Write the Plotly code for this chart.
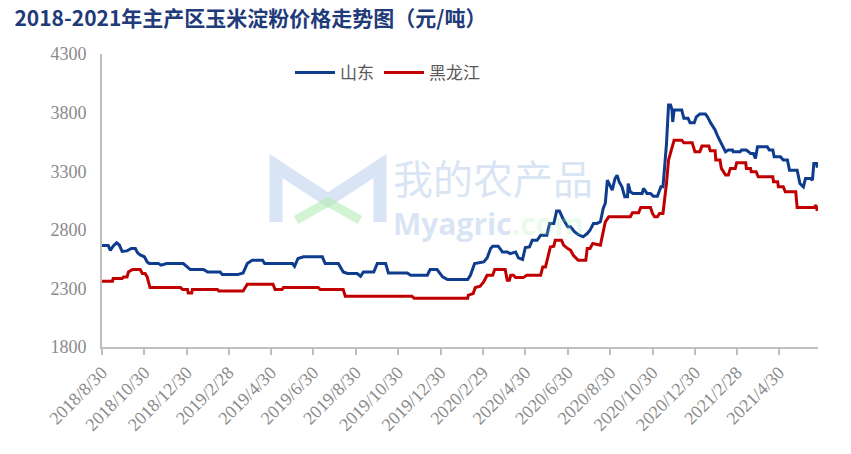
import plotly.graph_objects as go

# ---------------- data ----------------
sd_dates = [
    "2018-08-30", "2018-09-08", "2018-09-11", "2018-09-15", "2018-09-20", "2018-09-24",
    "2018-09-28", "2018-10-05", "2018-10-11", "2018-10-17", "2018-10-20", "2018-10-24",
    "2018-10-30", "2018-11-03", "2018-11-06", "2018-11-19", "2018-11-23", "2018-12-01",
    "2018-12-25", "2018-12-31", "2019-01-04", "2019-01-23", "2019-01-29", "2019-02-16",
    "2019-02-19", "2019-03-13", "2019-03-21", "2019-03-27", "2019-04-03", "2019-04-18",
    "2019-04-21", "2019-05-31", "2019-06-03", "2019-06-08", "2019-06-16", "2019-07-13",
    "2019-07-17", "2019-08-05", "2019-08-12", "2019-08-18", "2019-09-01", "2019-09-06",
    "2019-09-10", "2019-09-25", "2019-09-30", "2019-10-12", "2019-10-16", "2019-11-12",
    "2019-11-17", "2019-12-11", "2019-12-15", "2019-12-25", "2020-01-02", "2020-01-09",
    "2020-02-07", "2020-02-11", "2020-02-17", "2020-03-01", "2020-03-06", "2020-03-11",
    "2020-03-14", "2020-03-22", "2020-03-28", "2020-04-04", "2020-04-08", "2020-04-16",
    "2020-04-20", "2020-04-26", "2020-04-30", "2020-05-06", "2020-05-10", "2020-05-17",
    "2020-05-22", "2020-05-31", "2020-06-04", "2020-06-10", "2020-06-14", "2020-06-18",
    "2020-06-23", "2020-06-30", "2020-07-04", "2020-07-10", "2020-07-15", "2020-07-22",
    "2020-07-28", "2020-08-01", "2020-08-06", "2020-08-11", "2020-08-16", "2020-08-20",
    "2020-08-23", "2020-08-26", "2020-08-30", "2020-09-02", "2020-09-06", "2020-09-09",
    "2020-09-12", "2020-09-16", "2020-09-20", "2020-09-24", "2020-09-25", "2020-09-28",
    "2020-10-02", "2020-10-15", "2020-10-17", "2020-10-22", "2020-10-27", "2020-10-31",
    "2020-11-06", "2020-11-11", "2020-11-14", "2020-11-16", "2020-11-19", "2020-11-22",
    "2020-11-25", "2020-11-27", "2020-11-28", "2020-11-30", "2020-12-11", "2020-12-14",
    "2020-12-20", "2020-12-23", "2020-12-29", "2021-01-01", "2021-01-06", "2021-01-14",
    "2021-01-17", "2021-01-22", "2021-01-28", "2021-02-01", "2021-02-06", "2021-02-12",
    "2021-02-16", "2021-02-22", "2021-02-23", "2021-03-05", "2021-03-07", "2021-03-14",
    "2021-03-20", "2021-03-24", "2021-03-27", "2021-03-30", "2021-04-13", "2021-04-16",
    "2021-04-21", "2021-04-23", "2021-05-02", "2021-05-06", "2021-05-12", "2021-05-15",
    "2021-05-26", "2021-05-30", "2021-06-04", "2021-06-07", "2021-06-14", "2021-06-17",
    "2021-06-19", "2021-06-23", "2021-06-24",
]
sd_values = [
    2665, 2665, 2625, 2660, 2690, 2670,
    2615, 2620, 2640, 2640, 2605, 2585,
    2570, 2525, 2512, 2512, 2498, 2512,
    2512, 2485, 2461, 2461, 2440, 2440,
    2418, 2418, 2432, 2512, 2540, 2540,
    2512, 2512, 2489, 2555, 2569, 2569,
    2512, 2512, 2440, 2427, 2427, 2404,
    2440, 2440, 2512, 2512, 2432, 2432,
    2412, 2412, 2461, 2461, 2398, 2375,
    2375, 2412, 2512, 2526, 2560, 2640,
    2660, 2660, 2611, 2611, 2597, 2611,
    2560, 2546, 2649, 2654, 2711, 2711,
    2754, 2754, 2854, 2854, 2960, 2960,
    2897, 2825, 2825, 2782, 2760, 2740,
    2768, 2797, 2854, 2854, 2868, 2982,
    3025, 3224, 3181, 3138, 3238, 3266,
    3209, 3167, 3081, 3081, 3195, 3124,
    3110, 3110, 3153, 3110, 3110, 3087,
    3087, 3167, 3167, 3300, 3530, 3864,
    3864, 3822, 3720, 3822, 3822, 3751,
    3751, 3713, 3713, 3764, 3787, 3787,
    3764, 3708, 3651, 3594, 3537, 3465,
    3480, 3480, 3465, 3465, 3480, 3480,
    3452, 3452, 3409, 3508, 3508, 3480,
    3480, 3423, 3423, 3395, 3395, 3309,
    3309, 3195, 3167, 3238, 3238, 3224,
    3366, 3366, 3330,
]

hlj_dates = [
    "2018-08-30", "2018-09-14", "2018-09-15", "2018-09-28", "2018-09-30", "2018-10-05",
    "2018-10-07", "2018-10-13", "2018-10-24", "2018-10-27", "2018-10-31", "2018-11-03",
    "2018-11-07", "2018-12-21", "2018-12-24", "2018-12-31", "2019-01-01", "2019-01-06",
    "2019-01-07", "2019-02-12", "2019-02-14", "2019-03-21", "2019-03-27", "2019-05-03",
    "2019-05-06", "2019-05-16", "2019-05-18", "2019-07-07", "2019-07-10", "2019-08-12",
    "2019-08-15", "2019-11-19", "2019-11-22", "2020-02-07", "2020-02-08", "2020-02-15",
    "2020-02-18", "2020-02-25", "2020-03-01", "2020-03-06", "2020-03-14", "2020-03-17",
    "2020-04-01", "2020-04-04", "2020-04-07", "2020-04-09", "2020-04-13", "2020-04-16",
    "2020-04-27", "2020-05-02", "2020-05-22", "2020-05-25", "2020-05-29", "2020-06-01",
    "2020-06-05", "2020-06-10", "2020-06-12", "2020-06-21", "2020-06-24", "2020-06-30",
    "2020-07-04", "2020-07-08", "2020-07-15", "2020-07-26", "2020-07-28", "2020-08-01",
    "2020-08-05", "2020-08-16", "2020-08-19", "2020-08-23", "2020-08-28", "2020-09-28",
    "2020-10-01", "2020-10-10", "2020-10-13", "2020-10-27", "2020-10-30", "2020-11-02",
    "2020-11-06", "2020-11-09", "2020-11-14", "2020-11-16", "2020-11-19", "2020-11-22",
    "2020-11-25", "2020-11-30", "2020-12-11", "2020-12-14", "2020-12-26", "2020-12-30",
    "2021-01-06", "2021-01-09", "2021-01-19", "2021-01-21", "2021-01-28", "2021-01-29",
    "2021-02-04", "2021-02-06", "2021-02-12", "2021-02-16", "2021-02-19", "2021-02-26",
    "2021-02-28", "2021-03-13", "2021-03-14", "2021-03-20", "2021-03-21", "2021-03-28",
    "2021-03-31", "2021-04-21", "2021-04-22", "2021-04-28", "2021-04-29", "2021-05-06",
    "2021-05-09", "2021-05-24", "2021-05-26", "2021-06-19", "2021-06-22", "2021-06-24",
]
hlj_values = [
    2361, 2361, 2384, 2384, 2398, 2398,
    2440, 2461, 2461, 2427, 2427, 2398,
    2307, 2307, 2290, 2290, 2261, 2261,
    2290, 2290, 2278, 2278, 2335, 2335,
    2290, 2290, 2307, 2307, 2290, 2290,
    2233, 2233, 2216, 2216, 2242, 2256,
    2307, 2318, 2355, 2412, 2412, 2461,
    2461, 2370, 2370, 2412, 2412, 2392,
    2392, 2412, 2412, 2483, 2483, 2555,
    2654, 2660, 2711, 2711, 2669, 2640,
    2626, 2583, 2540, 2540, 2640, 2640,
    2683, 2669, 2768, 2868, 2911, 2911,
    2945, 2945, 2991, 2991, 2939, 2911,
    2911, 2939, 2939, 3025, 3195, 3395,
    3465, 3565, 3565, 3542, 3542, 3465,
    3465, 3514, 3514, 3474, 3474, 3395,
    3395, 3324, 3267, 3267, 3324, 3324,
    3372, 3372, 3324, 3324, 3295, 3295,
    3252, 3252, 3209, 3209, 3167, 3167,
    3124, 3124, 2991, 2991, 3010, 2962,
]

tick_dates = [
    "2018-08-30", "2018-10-30", "2018-12-30", "2019-02-28", "2019-04-30", "2019-06-30",
    "2019-08-30", "2019-10-30", "2019-12-30", "2020-02-29", "2020-04-30", "2020-06-30",
    "2020-08-30", "2020-10-30", "2020-12-30", "2021-02-28", "2021-04-30",
]
tick_labels = [
    "2018/8/30", "2018/10/30", "2018/12/30", "2019/2/28", "2019/4/30", "2019/6/30",
    "2019/8/30", "2019/10/30", "2019/12/30", "2020/2/29", "2020/4/30", "2020/6/30",
    "2020/8/30", "2020/10/30", "2020/12/30", "2021/2/28", "2021/4/30",
]
series_names = ["山东", "黑龙江"]
title_text = "2018-2021年主产区玉米淀粉价格走势图（元/吨）"

# ---------------- figure ----------------
W, H = 851, 454
L, R, T, B = 102, 33, 54, 107
PW, PH = W - L - R, H - T - B


def px(x):
    return (x - L) / PW


def py(y):
    return (H - B - y) / PH


fig = go.Figure()
fig.add_trace(go.Scatter(x=sd_dates, y=sd_values, mode="lines", name=series_names[0],
                         line=dict(color="#0e3d8e", width=3)))
fig.add_trace(go.Scatter(x=hlj_dates, y=hlj_values, mode="lines", name=series_names[1],
                         line=dict(color="#c00000", width=3)))

axis_gray = "#bfbfbf"
tick_font = dict(family="Liberation Serif", size=18, color="#8a8a8a")

fig.update_layout(
    width=W, height=H,
    margin=dict(l=L, r=R, t=T, b=B),
    paper_bgcolor="white", plot_bgcolor="white",
    title=dict(text=title_text, xref="container", yref="container",
               x=0.017, xanchor="left", y=0.958, yanchor="middle",
               font=dict(family="Noto Sans CJK SC", size=21, color="#1f3b7a", weight="bold")),
    legend=dict(orientation="h", x=px(290), xanchor="left", y=py(73), yanchor="middle",
                font=dict(family="Noto Sans CJK SC", size=17, color="#595959"),
                bgcolor="rgba(0,0,0,0)", itemwidth=40),
    showlegend=True,
    xaxis=dict(type="date", range=["2018-08-30", "2021-06-25"],
               tickmode="array", tickvals=tick_dates, ticktext=tick_labels,
               tickangle=-45, tickfont=tick_font,
               showgrid=False, zeroline=False, showline=True, linecolor=axis_gray, linewidth=2,
               ticks="outside", ticklen=6, tickwidth=2, tickcolor=axis_gray),
    yaxis=dict(range=[1800, 4300], dtick=500, tick0=1800, tickfont=tick_font,
               showgrid=False, zeroline=False, showline=True, linecolor=axis_gray, linewidth=2,
               ticks="", ticklabelstandoff=10),
)

# faint watermark logo (drawn below the data lines)
wm_blue = "rgba(185,205,235,0.55)"
wm_green = "rgba(175,235,175,0.55)"
fig.add_shape(type="path", xref="paper", yref="paper", layer="below",
              path=f"M {px(276)} {py(222)} L {px(276)} {py(166)} L {px(328)} {py(200)} "
                   f"L {px(380)} {py(166)} L {px(380)} {py(222)}",
              line=dict(color=wm_blue, width=13))
fig.add_shape(type="path", xref="paper", yref="paper", layer="below",
              path=f"M {px(296)} {py(220)} L {px(328)} {py(202)} L {px(360)} {py(220)}",
              line=dict(color=wm_green, width=9))
fig.add_annotation(
    text="<span style='font-size:40px'>我的农产品</span><br>"
         "<span style='font-size:30px;font-family:Open Sans;font-weight:bold'>"
         "Myagric<span style='color:rgba(160,235,160,0.5)'>.com</span></span>",
    xref="paper", yref="paper", x=px(391), y=py(196), xanchor="left", yanchor="middle",
    align="left", showarrow=False,
    font=dict(family="Noto Sans CJK SC", size=31.5, color="rgba(170,195,230,0.45)"))

fig.write_html("out.html")
